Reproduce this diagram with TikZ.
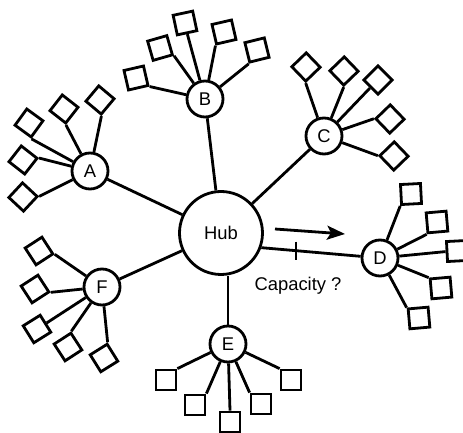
\documentclass[tikz,border=0pt]{standalone}
\usepackage{fontspec}
\setmainfont{Liberation Sans}
\usetikzlibrary{arrows.meta,positioning}

\begin{document}
\begin{tikzpicture}[x=0.5pt,y=-0.5pt,line width=1.4pt,
    >={Stealth[length=9pt,width=7pt,inset=2pt]},
    every node/.style={font=\fontsize{9.2}{11}\selectfont},
    hub/.style={circle,draw,fill=white,minimum size=41.5pt,inner sep=0pt},
    site/.style={circle,draw,fill=white,minimum size=18pt,inner sep=0pt},
    leaf/.style={rectangle,draw,fill=white,minimum size=10pt,inner sep=0pt}]
  \useasboundingbox (0,0) rectangle (463,433);
  \node[hub] (Hub) at (221,233) {Hub};
  \node[site] (A) at (90,171) {A};
  \node[site] (B) at (205,99) {B};
  \node[site] (C) at (324,136) {C};
  \node[site] (D) at (380,258) {D};
  \node[site] (E) at (228,344) {E};
  \node[site] (F) at (102,287) {F};

  % trunk lines
  \draw (Hub) -- (A);
  \draw (Hub) -- (B);
  \draw (Hub) -- (C);
  \draw (Hub) -- (F);
  \draw (E) -- (E |- Hub.south);
  \draw (Hub.-20) -- coordinate[pos=0.35] (cut) (D);
  \draw ([yshift=4.5pt]cut) -- ([yshift=-4.5pt]cut);
  \node[anchor=base] (cap) at (298,291) {Capacity ?};
  \coordinate (flow) at (275,229);
  \coordinate (flowend) at (345,234);
  \draw[->] (flow) -- (flowend);

  % leaves: x/y/rotation/corner the line runs to
  \foreach \x/\y/\r/\a [count=\i] in {100/100/50/south west,64/109/52/south west,
      29/123/54/south west,23/160/52/south east,23/197/47/south east}
    {\node[leaf,rotate=\r] (A\i) at (\x,\y) {}; \draw (A) -- (A\i.\a);}
  \foreach \x/\y/\r/\a [count=\i] in {136/78/13/south east,160/48/16/south east,
      185/23/12/south,224/32/13/south west,257/50/14/south west}
    {\node[leaf,rotate=\r] (B\i) at (\x,\y) {}; \draw (B) -- (B\i.\a);}
  \foreach \x/\y/\r/\a [count=\i] in {306/67/44/south west,344/71/44/south west,
      378/80/45/west,390/119/44/north west,394/156/44/north west}
    {\node[leaf,rotate=\r] (C\i) at (\x,\y) {}; \draw (C) -- (C\i.\a);}
  \foreach \x/\y/\r/\a [count=\i] in {411/194/3/south west,437/222/5/south west,
      457/251/3/west,441/288/5/north west,419/318/5/north west}
    {\node[leaf,rotate=\r] (D\i) at (\x,\y) {}; \draw (D) -- (D\i.\a);}
  \foreach \x/\y/\r/\a [count=\i] in {166/380/0/north east,195/405/0/north east,
      230/422/0/north,261/404/0/north west,291/380/0/north west}
    {\node[leaf,rotate=\r] (E\i) at (\x,\y) {}; \draw (E) -- (E\i.\a);}
  \foreach \x/\y/\r/\a [count=\i] in {39/251/33/south east,35/289/33/south east,
      37/329/32/east,68/347/33/north east,104/358/32/north east}
    {\node[leaf,rotate=\r] (F\i) at (\x,\y) {}; \draw (F) -- (F\i.\a);}
\end{tikzpicture}
\end{document}
